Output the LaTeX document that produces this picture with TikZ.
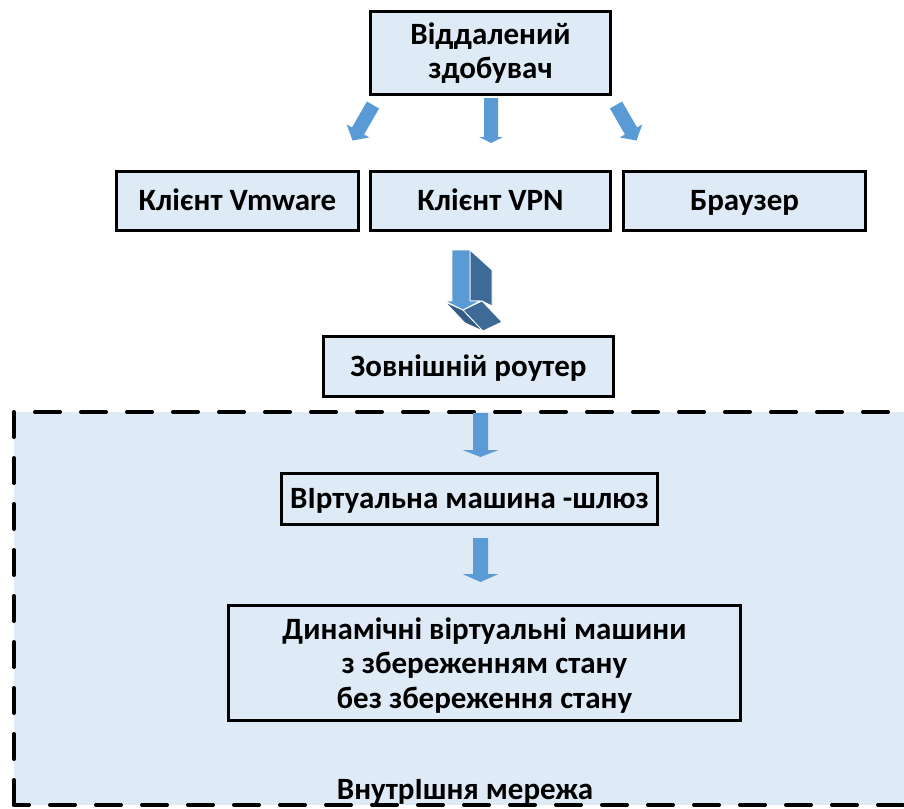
\documentclass[tikz,border=0pt]{standalone}
\usepackage{fontspec}
\setmainfont{Carlito}
\usetikzlibrary{calc}
\definecolor{paleblue}{HTML}{DEEBF7}
\definecolor{arrowblue}{HTML}{5B9BD5}
\definecolor{sidedark}{HTML}{3E6A97}
\definecolor{sidedeep}{HTML}{345C86}

% block arrow: start x, start y, rotation, length, shaft half width, head half width, head length
\newcommand\blockarrow[7]{%
  \fill[arrowblue, shift={(#1,#2)}, rotate=#3]
    (-#5,0) -- (#5,0) -- (#5,#4-#7) -- (#6,#4-#7) -- (0,#4)
    -- (-#6,#4-#7) -- (-#5,#4-#7) -- cycle;}

\begin{document}
\begin{tikzpicture}[x=1pt,y=-1pt,
  box/.style={draw=black, line width=3.5pt, fill=paleblue, inner sep=0pt,
    align=center, text=black, font=\fontsize{31}{34.5}\selectfont\bfseries},
  oneline/.style={text height=28pt, text depth=8.5pt},
  zonelabel/.style={inner sep=0pt, text=black, font=\fontsize{31}{34}\selectfont\bfseries},
  zoneline/.style={line width=4pt, line cap=round, dash pattern=on 25pt off 21pt},
  facelight/.style={fill=arrowblue, draw=white, line width=0.8pt, line join=round},
  faceside/.style={fill=sidedark, draw=white, line width=0.8pt, line join=round},
  facedeep/.style={fill=sidedeep, draw=white, line width=0.8pt, line join=round},
]
\useasboundingbox (0,0) rectangle (904,808);

% inner network zone
\begin{scope}
  \clip (0,0) rectangle (904,808);
  \fill[paleblue] (14,412) rectangle (930,805);
  \draw[zoneline] (14,412) -- (14,805);
  \draw[zoneline, dash phase=25pt] (14,412) -- (930,412);
  \draw[zoneline, dash phase=10pt] (14,805) -- (930,805);
\end{scope}

% boxes
\node[box, minimum width=240pt, minimum height=83pt] (remote) at (490.5,53) {Віддалений\\здобувач};
\node[box, oneline, minimum width=242pt, minimum height=59pt] (vmware) at (237.5,201) {Клієнт Vmware};
\node[box, oneline, minimum width=240pt, minimum height=59pt] (vpn) at (490.5,201) {Клієнт VPN};
\node[box, oneline, minimum width=242pt, minimum height=59pt] (browser) at (744.5,201) {Браузер};
\node[box, oneline, minimum width=290pt, minimum height=60pt] (router) at (468.5,366.5) {Зовнішній роутер};
\node[box, oneline, minimum width=376pt, minimum height=51pt] (gateway) at (469.5,499) {ВIртуальна машина -шлюз};
\node[box, minimum width=512pt, minimum height=115pt, text depth=0pt] (dynamic) at (484.5,663)
  {Динамічні віртуальні машини\\з збереженням стану\\без збереження стану};
\node[zonelabel, anchor=base] (zone) at (465,799) {ВнутрIшня мережа};

% arrows from the remote user to the clients
\blockarrow{373}{105}{-30}{41}{7}{13}{11}
\blockarrow{491}{98}{0}{45}{7}{12}{6}
\blockarrow{616}{105}{30}{41}{7}{13}{11}

% 3D arrow from the clients to the router
\path[faceside] (470,250) -- (492,270) -- (492,306) -- (482,301) -- (470,301) -- cycle;
\path[facedeep] (445,302) -- (463,310) -- (483,331) -- (465,323) -- cycle;
\path[faceside] (463,310) -- (482,301) -- (502,322) -- (483,331) -- cycle;
\path[facelight] (452,250) -- (470,250) -- (470,301) -- (480,301) -- (463,310)
  -- (445,301) -- (452,301) -- cycle;

% arrows inside the zone
\blockarrow{480.5}{413}{0}{44}{7.5}{18}{7}
\blockarrow{480.5}{538}{0}{44}{7.5}{18}{8}
\end{tikzpicture}
\end{document}
